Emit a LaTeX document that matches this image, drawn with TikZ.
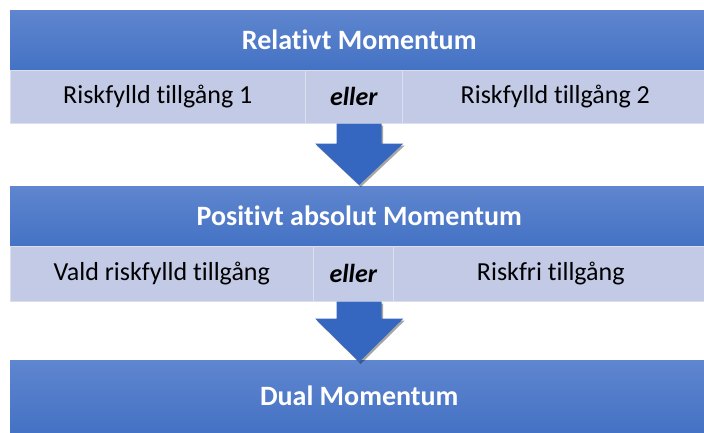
\documentclass[tikz,border=0pt]{standalone}
\usepackage{fontspec}
\setmainfont[Ligatures=NoCommon]{Carlito}
\usetikzlibrary{shadows,calc,backgrounds}
\definecolor{hdtop}{HTML}{5F86CF}
\definecolor{hdbot}{HTML}{4472C4}
\definecolor{rowfill}{HTML}{C2CAE6}
\definecolor{rowline}{HTML}{D9DEF0}
\definecolor{arrowblue}{HTML}{3566C0}

\begin{document}
\begin{tikzpicture}[x=1pt,y=-1pt,
  header/.style={rectangle, inner sep=0pt, anchor=north west,
    minimum width=698pt, top color=hdtop, bottom color=hdbot,
    text=white, font=\fontsize{28}{32}\selectfont\bfseries},
  cell/.style={rectangle, inner sep=0pt, anchor=north west,
    fill=rowfill, draw=rowline, line width=0.6pt,
    font=\fontsize{26}{30}\selectfont},
  orcell/.style={cell, font=\fontsize{26}{30}\selectfont\bfseries\itshape},
  softshadow/.style={drop shadow={shadow xshift=0.6pt, shadow yshift=-2pt,
    opacity=0.35, fill=black}},
  bigarrow/.style={fill=arrowblue,
    drop shadow={shadow xshift=1.5pt, shadow yshift=-2pt, opacity=0.35, fill=black}}
]
\useasboundingbox[fill=white] (0,0) rectangle (704,432);

% first block: relative momentum
\node[header, minimum height=60pt] (h1) at (10,10) {Relativt Momentum};
\node[cell, minimum width=295pt, minimum height=53pt] (c11) at (10,70) {Riskfylld tillgång 1};
\node[orcell, minimum width=97pt, minimum height=53pt] (c12) at (305,70) {eller};
\node[cell, minimum width=306pt, minimum height=53pt] (c13) at (402,70) {Riskfylld tillgång 2};

% second block: absolute momentum
\node[header, minimum height=60pt] (h2) at (10,186) {Positivt absolut Momentum};
\node[cell, minimum width=303pt, minimum height=55pt] (c21) at (10,246) {Vald riskfylld tillgång};
\node[orcell, minimum width=80pt, minimum height=55pt] (c22) at (313,246) {eller};
\node[cell, minimum width=315pt, minimum height=55pt] (c23) at (393,246) {Riskfri tillgång};

% result
\node[header, minimum height=72pt] (h3) at (10,360) {Dual Momentum};

% shadows behind the blocks
\begin{scope}[on background layer]
  \path[softshadow] (h1.north west) rectangle (c13.south east);
  \path[softshadow] (h2.north west) rectangle (c23.south east);
  \path[softshadow] (h3.north west) rectangle (h3.south east);
\end{scope}

% block arrows between the stages
\coordinate (a1s) at (h1.center |- c12.south);
\coordinate (a1e) at ($(h2.north)+(0,-1)$);
\coordinate (a2s) at (h2.center |- c22.south);
\coordinate (a2e) at ($(h3.north)+(0,2)$);

\path[bigarrow] ($(a1s)+(-22.5,0)$) -- ($(a1s)+(-22.5,20)$) -- ($(a1s)+(-44,20)$)
  -- (a1e) -- ($(a1s)+(44,20)$) -- ($(a1s)+(22.5,20)$) -- ($(a1s)+(22.5,0)$) -- cycle;
\path[bigarrow] ($(a2s)+(-22.5,0)$) -- ($(a2s)+(-22.5,17)$) -- ($(a2s)+(-44,17)$)
  -- (a2e) -- ($(a2s)+(44,17)$) -- ($(a2s)+(22.5,17)$) -- ($(a2s)+(22.5,0)$) -- cycle;
\end{tikzpicture}
\end{document}
